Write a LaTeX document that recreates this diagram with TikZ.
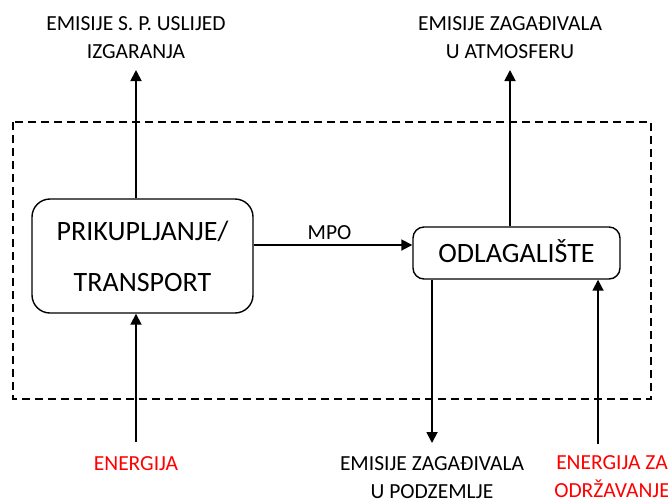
\documentclass[tikz,border=0pt]{standalone}
\usepackage{fontspec}
\setmainfont{Carlito}
\usetikzlibrary{arrows.meta,calc}
\begin{document}
\begin{tikzpicture}[x=1pt,y=-1pt,
  procbox/.style={draw, line width=1.4pt, font=\fontsize{28}{51}\selectfont, align=center, inner sep=0pt},
  lbl/.style={font=\fontsize{21.5}{28}\selectfont, align=center, inner sep=0pt},
  redlbl/.style={lbl, text=red},
  flow/.style={line width=1.8pt, -{Triangle[length=11pt,width=11pt]}},
  sysbound/.style={draw, line width=1.8pt, dash pattern=on 8pt off 5pt}]
\useasboundingbox (0,0) rectangle (668,499);
\draw[sysbound] (13,122) rectangle (651,399);
\node[procbox, rounded corners=18pt, minimum width=221pt, minimum height=114pt] (b1) at (142.5,256) {PRIKUPLJANJE/\\TRANSPORT};
\node[procbox, rounded corners=11pt, minimum width=207pt, minimum height=52pt, text height=18pt, text depth=0pt] (b2) at (516.5,253) {ODLAGALIŠTE};
\node[lbl] (t1) at (136,37.5) {EMISIJE S. P. USLIJED\\IZGARANJA};
\node[lbl] (t2) at (510,37.5) {EMISIJE ZAGAĐIVALA\\U ATMOSFERU};
\node[redlbl] (t3) at (136,463.5) {ENERGIJA};
\node[lbl] (t4) at (432,478) {EMISIJE ZAGAĐIVALA\\U PODZEMLJE};
\node[redlbl] (t5) at (612,477) {ENERGIJA ZA\\ODRŽAVANJE};
\node[lbl, anchor=base] (mpo) at (329.5,239) {MPO};
\coordinate (e1) at (136,70);
\coordinate (e2) at (510,70);
\coordinate (e3) at (136,442);
\coordinate (e4) at (432,443);
\coordinate (e5) at (598,444);
\coordinate (m) at (0,245);
\draw[flow] (b1.north -| e1) -- (e1);
\draw[flow] (b2.north -| e2) -- (e2);
\draw[flow] (b1.east |- m) -- (b2.west |- m);
\draw[flow] (e3) -- (b1.south -| e3);
\draw[flow] (b2.south -| e4) -- (e4);
\draw[flow] (e5) -- (b2.south -| e5);
\end{tikzpicture}
\end{document}
